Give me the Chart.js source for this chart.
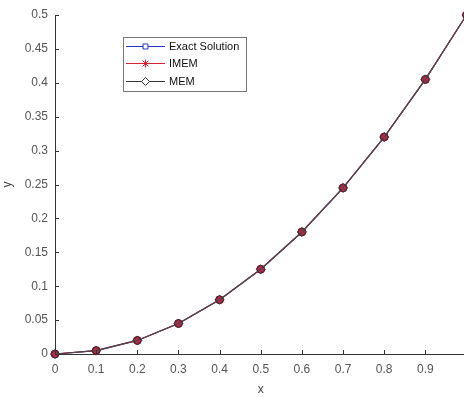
<!DOCTYPE html>
<html>
<head>
<meta charset="utf-8">
<script src="https://cdn.jsdelivr.net/npm/chart.js@4"></script>
<style>
  html, body { margin: 0; padding: 0; background: #fff; overflow: hidden; }
  #wrap { width: 472px; height: 397px; }
</style>
</head>
<body>
<div id="wrap"><canvas id="myChart" width="472" height="397"></canvas></div>
<script>
// значения
const xValues = [0, 0.1, 0.2, 0.3, 0.4, 0.5, 0.6, 0.7, 0.8, 0.9, 1];
const exactValues = [0, 0.005, 0.02, 0.045, 0.08, 0.125, 0.18, 0.245, 0.32, 0.405, 0.5];
const imemValues = [0, 0.005, 0.02, 0.045, 0.08, 0.125, 0.18, 0.245, 0.32, 0.405, 0.5];
const memValues = [0, 0.005, 0.02, 0.045, 0.08, 0.125, 0.18, 0.245, 0.32, 0.405, 0.5];
const xTicks = [0, 0.1, 0.2, 0.3, 0.4, 0.5, 0.6, 0.7, 0.8, 0.9, 1];
const yTicks = [0, 0.05, 0.1, 0.15, 0.2, 0.25, 0.3, 0.35, 0.4, 0.45, 0.5];
const seriesNames = ['Exact Solution', 'IMEM', 'MEM'];

const toPoints = (ys) => xValues.map((x, i) => ({ x: x, y: ys[i] }));

// маркеры легенды как в MATLAB
const legendMarks = [
    { color: '#2233cc', style: 'rect', r: 3.5, fill: '#fff' },
    { color: '#dd2233', style: 'star', r: 4, fill: '#dd2233' },
    { color: '#333333', style: 'rectRot', r: 4, fill: '#fff' }
];

// рамка легенды внутри графика
const boxLegend = {
    id: 'boxLegend',
    afterDraw(chart) {
        const ctx = chart.ctx;
        const left = 123, top = 37, w = 123, h = 54;
        ctx.save();
        ctx.fillStyle = '#fff';
        ctx.fillRect(left, top, w, h);
        ctx.strokeStyle = '#777';
        ctx.lineWidth = 1;
        ctx.strokeRect(left + 0.5, top + 0.5, w, h);
        ctx.font = '11px "Liberation Sans", Arial, sans-serif';
        ctx.textBaseline = 'middle';
        const rows = [46, 63, 81];
        legendMarks.forEach((m, i) => {
            const y = rows[i] + 0.5;
            ctx.strokeStyle = m.color;
            ctx.lineWidth = 1;
            ctx.beginPath();
            ctx.moveTo(126, y);
            ctx.lineTo(165, y);
            ctx.stroke();
            ctx.fillStyle = m.fill;
            Chart.helpers.drawPoint(ctx, {
                pointStyle: m.style,
                radius: m.r,
                rotation: 0,
                borderWidth: 1
            }, 145.5, y);
            ctx.fillStyle = '#111';
            ctx.fillText(seriesNames[i], 169, y);
        });
        ctx.restore();
    }
};

// засечки внутрь области графика
const innerTicks = {
    id: 'innerTicks',
    afterDatasetsDraw(chart) {
        const { ctx, chartArea, scales } = chart;
        ctx.save();
        ctx.strokeStyle = '#333';
        ctx.lineWidth = 1;
        ctx.beginPath();
        xTicks.forEach(v => {
            const px = Math.round(scales.x.getPixelForValue(v)) + 0.5;
            ctx.moveTo(px, chartArea.bottom);
            ctx.lineTo(px, chartArea.bottom - 4);
        });
        yTicks.forEach(v => {
            const py = Math.round(scales.y.getPixelForValue(v)) + 0.5;
            ctx.moveTo(chartArea.left, py);
            ctx.lineTo(chartArea.left + 4, py);
        });
        ctx.stroke();
        ctx.restore();
    }
};

// стили точек на графике (MEM рисуется сверху)
const styles = [
    { color: '#2233cc', fill: 'rgba(0,0,0,0)', edge: '#2233cc', style: 'rect', r: 3.5, order: 3 },
    { color: '#dd2233', fill: '#b02a48', edge: '#6a1a2a', style: 'circle', r: 4, order: 2 },
    { color: '#4a4a4a', fill: 'rgba(0,0,0,0)', edge: '#3a2a30', style: 'rectRot', r: 4.5, order: 1 }
];

const plot = document.getElementById('myChart').getContext('2d');
const myChart = new Chart(plot, {
    type: 'line',
    data: {
        datasets: [exactValues, imemValues, memValues].map((vals, i) => ({
            label: seriesNames[i],
            data: toPoints(vals),
            order: styles[i].order,
            borderColor: styles[i].color,
            backgroundColor: styles[i].fill,
            pointBackgroundColor: styles[i].fill,
            pointBorderColor: styles[i].edge,
            pointStyle: styles[i].style,
            pointRadius: styles[i].r,
            pointBorderWidth: 1,
            borderWidth: 1.2,
            fill: false,
            tension: 0,
            clip: false
        }))
    },
    options: {
        responsive: false,
        animation: false,
        layout: { padding: { top: 15, right: 2, left: 0, bottom: 0 } },
        plugins: {
            legend: { display: false },
            tooltip: { enabled: false }
        },
        scales: {
            x: {
                type: 'linear',
                min: 0,
                max: 1,
                afterBuildTicks: (axis) => { axis.ticks = xTicks.map(v => ({ value: v })); },
                afterFit: (axis) => {
                    axis.height = 43;
                    axis.paddingLeft = 0;
                    axis.paddingRight = 0;
                },
                grid: { display: false, drawTicks: false },
                border: { color: '#333', width: 1 },
                ticks: {
                    color: '#555',
                    padding: 8,
                    font: { family: '"Liberation Sans", Arial, sans-serif', size: 12 },
                    callback: (v) => String(v)
                },
                title: {
                    display: true,
                    text: 'x',
                    color: '#444',
                    padding: { top: 4, bottom: 0 },
                    font: { family: '"Liberation Sans", Arial, sans-serif', size: 12 }
                }
            },
            y: {
                min: 0,
                max: 0.5,
                afterBuildTicks: (axis) => { axis.ticks = yTicks.map(v => ({ value: v })); },
                afterFit: (axis) => {
                    axis.width = 55;
                    axis.paddingTop = 0;
                    axis.paddingBottom = 0;
                },
                grid: { display: false, drawTicks: false },
                border: { color: '#333', width: 1 },
                ticks: {
                    color: '#555',
                    padding: 7,
                    font: { family: '"Liberation Sans", Arial, sans-serif', size: 12 },
                    callback: (v) => String(v)
                },
                title: {
                    display: true,
                    text: 'y',
                    color: '#444',
                    padding: { top: 0, bottom: 2 },
                    font: { family: '"Liberation Sans", Arial, sans-serif', size: 12 }
                }
            }
        }
    },
    plugins: [innerTicks, boxLegend]
});
</script>
</body>
</html>
